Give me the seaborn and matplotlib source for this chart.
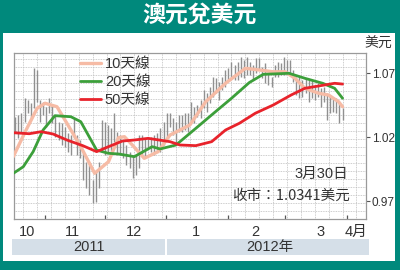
import matplotlib
matplotlib.use("Agg")
import matplotlib.pyplot as plt
import seaborn as sns
import pandas as pd
import numpy as np
from matplotlib.patches import Rectangle

# ---------------- data ----------------
title = "澳元兌美元"
unit = "美元"
legend_labels = ["10天線", "20天線", "50天線"]
note_date = "3月30日"
note_close = "收市：1.0341美元"

bar_high = [1.0359, 1.0374, 1.0390, 1.0507, 1.0491, 1.0468, 1.0741, 1.0726, 1.0491, 1.0476,
            1.0437, 1.0507, 1.0452, 1.0374, 1.0320, 1.0312, 1.0281, 1.0234, 1.0218, 1.0351,
            1.0218, 1.0179, 1.0078, 1.0007, 0.9984, 0.9866, 0.9929, 1.0007, 1.0335, 1.0320,
            1.0296, 1.0273, 1.0390, 1.0242, 1.0218, 1.0179, 1.0140, 1.0085, 1.0062, 1.0062,
            1.0218, 1.0218, 1.0195, 1.0195, 1.0202, 1.0218, 1.0234, 1.0273, 1.0320, 1.0390,
            1.0390, 1.0351, 1.0320, 1.0374, 1.0374, 1.0390, 1.0390, 1.0476, 1.0437, 1.0452,
            1.0491, 1.0570, 1.0546, 1.0593, 1.0671, 1.0663, 1.0632, 1.0671, 1.0726, 1.0741,
            1.0788, 1.0765, 1.0788, 1.0827, 1.0804, 1.0827, 1.0788, 1.0765, 1.0820, 1.0820,
            1.0749, 1.0780, 1.0702, 1.0671, 1.0765, 1.0788, 1.0780, 1.0827, 1.0804, 1.0804,
            1.0726, 1.0671, 1.0671, 1.0648, 1.0663, 1.0648, 1.0648, 1.0609, 1.0624, 1.0585,
            1.0593, 1.0546, 1.0531, 1.0515, 1.0507, 1.0468, 1.0429]
bar_low = [1.0242, 1.0195, 1.0234, 1.0320, 1.0390, 1.0351, 1.0429, 1.0476, 1.0320, 1.0374,
           1.0281, 1.0390, 1.0312, 1.0202, 1.0179, 1.0140, 1.0124, 1.0085, 1.0062, 1.0195,
           1.0062, 1.0038, 0.9866, 0.9804, 0.9750, 0.9687, 0.9695, 0.9804, 1.0085, 1.0062,
           1.0085, 1.0062, 1.0163, 1.0062, 1.0062, 1.0038, 0.9984, 0.9960, 0.9882, 0.9905,
           0.9960, 1.0062, 1.0038, 1.0117, 1.0085, 1.0062, 1.0085, 1.0085, 1.0140, 1.0195,
           1.0281, 1.0218, 1.0156, 1.0242, 1.0242, 1.0257, 1.0242, 1.0320, 1.0312, 1.0359,
           1.0351, 1.0429, 1.0398, 1.0468, 1.0515, 1.0546, 1.0491, 1.0570, 1.0593, 1.0648,
           1.0663, 1.0648, 1.0648, 1.0671, 1.0663, 1.0687, 1.0687, 1.0648, 1.0702, 1.0726,
           1.0663, 1.0624, 1.0609, 1.0593, 1.0671, 1.0671, 1.0687, 1.0687, 1.0710, 1.0702,
           1.0632, 1.0531, 1.0507, 1.0515, 1.0546, 1.0476, 1.0507, 1.0491, 1.0515, 1.0437,
           1.0476, 1.0335, 1.0390, 1.0398, 1.0390, 1.0312, 1.0335]
bar_first, bar_last = "2011-10-17", "2012-03-30"

ma10_dates = ["2011-10-16", "2011-10-22", "2011-10-28", "2011-11-01", "2011-11-07", "2011-11-12",
              "2011-11-19", "2011-11-26", "2011-12-03", "2011-12-08", "2011-12-11", "2011-12-15",
              "2011-12-21", "2011-12-28", "2012-01-03", "2012-01-13", "2012-01-21", "2012-01-31",
              "2012-02-10", "2012-02-17", "2012-02-24", "2012-03-01", "2012-03-06", "2012-03-11",
              "2012-03-18", "2012-03-23", "2012-03-28", "2012-03-30"]
ma10_vals = [1.0050, 1.0244, 1.0427, 1.0466, 1.0439, 1.0310,
             1.0127, 0.9919, 1.0010, 1.0197, 1.0205, 1.0140,
             1.0036, 1.0088, 1.0218, 1.0296, 1.0478, 1.0622,
             1.0739, 1.0726, 1.0712, 1.0712, 1.0661, 1.0583,
             1.0544, 1.0530, 1.0478, 1.0439]

ma20_dates = ["2011-10-16", "2011-10-21", "2011-10-26", "2011-10-31", "2011-11-06", "2011-11-14",
              "2011-11-19", "2011-11-27", "2011-12-03", "2011-12-08", "2011-12-16", "2011-12-25",
              "2011-12-29", "2012-01-06", "2012-01-16", "2012-01-25", "2012-02-03", "2012-02-12",
              "2012-02-19", "2012-03-03", "2012-03-11", "2012-03-20", "2012-03-26", "2012-03-30"]
ma20_vals = [0.9919, 0.9970, 1.0088, 1.0257, 1.0369, 1.0361,
             1.0322, 1.0100, 1.0075, 1.0070, 1.0049, 1.0127,
             1.0109, 1.0140, 1.0270, 1.0388, 1.0505, 1.0628,
             1.0692, 1.0700, 1.0661, 1.0622, 1.0583, 1.0505]

ma50_dates = ["2011-10-16", "2011-10-24", "2011-10-30", "2011-11-05", "2011-11-12", "2011-11-20",
              "2011-11-27", "2011-12-03", "2011-12-10", "2011-12-16", "2011-12-23", "2012-01-03",
              "2012-01-08", "2012-01-16", "2012-01-24", "2012-01-31", "2012-02-07", "2012-02-15",
              "2012-02-24", "2012-03-04", "2012-03-11", "2012-03-21", "2012-03-26", "2012-03-30"]
ma50_vals = [1.0236, 1.0228, 1.0244, 1.0226, 1.0179, 1.0135,
             1.0088, 1.0127, 1.0171, 1.0179, 1.0192, 1.0166,
             1.0140, 1.0135, 1.0166, 1.0257, 1.0310, 1.0388,
             1.0452, 1.0530, 1.0583, 1.0609, 1.0622, 1.0616]

y_ticks = [0.97, 1.02, 1.07]
y_tick_labels = ["0.97", "1.02", "1.07"]
month_starts = ["2011-11-01", "2011-12-01", "2012-01-01", "2012-02-01", "2012-03-01", "2012-04-01"]
month_label_pos = ["2011-10-23", "2011-11-15", "2011-12-16", "2012-01-16", "2012-02-15", "2012-03-19", "2012-04-06"]
month_labels = ["10", "11", "12", "1", "2", "3", "4月"]
years = ["2011", "2012年"]

# ---------------- style ----------------
TEAL = "#00897C"
TXT = "#333333"
sns.set_theme(style="white")
plt.rcParams["font.family"] = ["Liberation Sans", "Noto Sans CJK TC"]

fig = plt.figure(figsize=(4, 2.7), dpi=100, facecolor=TEAL)
fig.patches.append(Rectangle((2.5 / 400, 9 / 270), 392.5 / 400, 228.5 / 270,
                             transform=fig.transFigure, facecolor="white", edgecolor="none", zorder=-5))
fig.text(0.5, 1 - 16 / 270, title, color="white", fontsize=16.5, fontweight="bold",
         ha="center", va="center", family=["Noto Sans CJK TC"])

ax = fig.add_axes([14 / 400, 1 - 219 / 270, 351.7 / 400, 166.3 / 270])
ax.set_zorder(3)
ax.set_facecolor("white")

# grid
x0, x1 = pd.Timestamp("2011-10-16 08:00"), pd.Timestamp("2012-04-10 16:00")
for d in pd.date_range("2011-10-21", "2012-04-10", freq="7D"):
    ax.axvline(d, color="#bdbdbd", lw=0.6, ls=(0, (1, 1)), zorder=0)
for v in np.arange(0.95, 1.09, 0.00625):
    ax.axhline(v, color="#bdbdbd", lw=0.6, ls=(0, (1, 1)), zorder=0)

# bars
bar_dates = pd.date_range(bar_first, bar_last, periods=len(bar_high))
ax.vlines(bar_dates, bar_low, bar_high, color="#909090", lw=1.0, zorder=1)

# moving averages
df10 = pd.DataFrame({"date": pd.to_datetime(ma10_dates), "v": ma10_vals})
df20 = pd.DataFrame({"date": pd.to_datetime(ma20_dates), "v": ma20_vals})
df50 = pd.DataFrame({"date": pd.to_datetime(ma50_dates), "v": ma50_vals})
sns.lineplot(data=df10, x="date", y="v", ax=ax, color="#F6BBA5", lw=2.4, label=legend_labels[0], zorder=3)
sns.lineplot(data=df20, x="date", y="v", ax=ax, color="#3C9F3A", lw=2.0, label=legend_labels[1], zorder=4)
sns.lineplot(data=df50, x="date", y="v", ax=ax, color="#E8232B", lw=2.0, label=legend_labels[2], zorder=5)

ax.set_xlim(x0, x1)
ax.set_ylim(0.9562, 1.0861)
ax.set_xlabel("")
ax.set_ylabel("")

leg = ax.legend(loc="upper left", bbox_to_anchor=(0.188, 0.975), frameon=False, fontsize=10.5,
                handlelength=1.45, handletextpad=0.25, labelspacing=0.28, borderpad=0, borderaxespad=0)
for t in leg.get_texts():
    t.set_color(TXT)

# axes styling
for s in ax.spines.values():
    s.set_color("#9a9a9a")
    s.set_linewidth(0.9)

ax.yaxis.tick_right()
ax.set_yticks(y_ticks)
ax.set_yticklabels(y_tick_labels)
ax.tick_params(axis="y", which="major", direction="out", length=3, width=0.8, color="#555555",
               labelsize=8.5, labelcolor=TXT, pad=1.5, right=True, left=False)

ax.set_xticks(pd.to_datetime(month_starts))
ax.set_xticklabels([""] * len(month_starts))
ax.set_xticks(pd.to_datetime(month_label_pos), minor=True)
ax.set_xticklabels(month_labels, minor=True)
ax.tick_params(axis="x", which="major", direction="in", length=3, width=0.9, color="#555555", bottom=True)
ax.tick_params(axis="x", which="minor", length=0, labelsize=10.5, labelcolor=TXT, pad=4)

# unit and note
fig.text(378 / 400, 1 - 44 / 270, unit, fontsize=10, color=TXT, ha="center", va="center",
         family=["Noto Sans CJK TC"])
fig.text(348 / 400, 1 - 174 / 270, note_date, fontsize=10.5, color=TXT, ha="right", va="center",
         zorder=10)
fig.text(350 / 400, 1 - 196 / 270, note_close, fontsize=10.5, color=TXT, ha="right", va="center",
         family=["Noto Sans CJK TC"], zorder=10)

# year bands
BAND = "#D5DFE8"
fig.patches.append(Rectangle((12 / 400, 15 / 270), 153 / 400, 16 / 270, transform=fig.transFigure,
                             facecolor=BAND, edgecolor="none", zorder=-4))
fig.patches.append(Rectangle((167 / 400, 15 / 270), 202 / 400, 16 / 270, transform=fig.transFigure,
                             facecolor=BAND, edgecolor="none", zorder=-4))
fig.text(88.5 / 400, 23 / 270, years[0], fontsize=10.5, color=TXT, ha="center", va="center")
fig.text(270 / 400, 23 / 270, years[1], fontsize=10.5, color=TXT, ha="center", va="center")

fig.savefig("out.png", dpi=100, facecolor=TEAL)
